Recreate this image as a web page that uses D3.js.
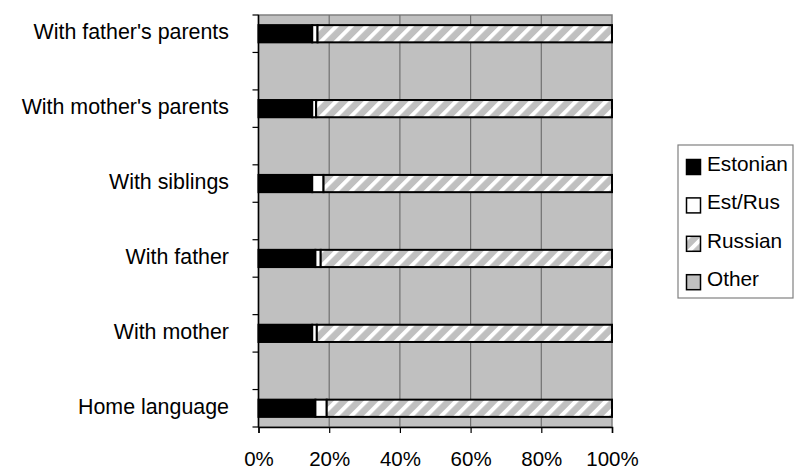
<!DOCTYPE html>
<html>
<head>
<meta charset="utf-8">
<script src="https://cdn.jsdelivr.net/npm/d3@7"></script>
<style>
  html, body { margin: 0; padding: 0; background: #fff; }
  svg { display: block; font-family: "Liberation Sans", Arial, sans-serif; }
</style>
</head>
<body>
<div id="chart"></div>
<script>
const categories = ["With father's parents", "With mother's parents", "With siblings", "With father", "With mother", "Home language"];
const estonian = [15.2, 15.2, 15.2, 16.1, 15.2, 16.1];
const estRus   = [1.5, 1.1, 3.2, 1.5, 1.3, 3.2];
const russian  = [83.3, 83.7, 81.6, 82.4, 83.5, 80.7];
const other    = [0, 0, 0, 0, 0, 0];
const seriesNames = ["Estonian", "Est/Rus", "Russian", "Other"];
const xTicks = [0, 20, 40, 60, 80, 100];

const W = 794, H = 470;
const plot = { left: 258.5, right: 612, top: 15, bottom: 427 };

const svg = d3.select("#chart").append("svg").attr("width", W).attr("height", H);
svg.append("rect").attr("width", W).attr("height", H).attr("fill", "#fff");

const defs = svg.append("defs");
const pat = defs.append("pattern")
  .attr("id", "hatch").attr("patternUnits", "userSpaceOnUse")
  .attr("width", 10.6).attr("height", 10.6)
  .attr("patternTransform", "rotate(45)");
pat.append("rect").attr("width", 10.6).attr("height", 10.6).attr("fill", "#c0c0c0");
pat.append("rect").attr("width", 4).attr("height", 10.6).attr("fill", "#ffffff");

const x = d3.scaleLinear().domain([0, 100]).range([plot.left, plot.right]);
// 11 slots: categories occupy every other slot
const slots = d3.range(categories.length * 2 - 1);
const y = d3.scaleBand().domain(slots).range([plot.top, plot.bottom]).paddingInner(0).paddingOuter(0);
const barPad = 0.27;

// plot background
svg.append("rect").attr("x", plot.left).attr("y", plot.top)
  .attr("width", plot.right - plot.left).attr("height", plot.bottom - plot.top)
  .attr("fill", "#c0c0c0").attr("stroke", "#808080").attr("stroke-width", 1.5);

// gridlines
svg.append("g").selectAll("line").data(xTicks.slice(1, -1)).join("line")
  .attr("x1", d => x(d)).attr("x2", d => x(d))
  .attr("y1", plot.top).attr("y2", plot.bottom)
  .attr("stroke", "#707070").attr("stroke-width", 1.2);

// stacked data
const fills = ["#000000", "#ffffff", "url(#hatch)", "#c0c0c0"];
const rows = categories.map((c, i) => ({ cat: c, slot: i * 2, vals: [estonian[i], estRus[i], russian[i], other[i]] }));
const segs = [];
rows.forEach(r => {
  let acc = 0;
  r.vals.forEach((v, k) => {
    if (v > 0) segs.push({ slot: r.slot, x0: acc, x1: acc + v, k });
    acc += v;
  });
});
const bh = y.bandwidth() * (1 - 2 * barPad);
svg.append("g").selectAll("rect").data(segs).join("rect")
  .attr("x", d => x(d.x0)).attr("width", d => x(d.x1) - x(d.x0))
  .attr("y", d => y(d.slot) + y.bandwidth() * barPad).attr("height", bh)
  .attr("fill", d => fills[d.k]).attr("stroke", "#000").attr("stroke-width", 2);

// left axis with ticks at slot boundaries
const yTickPos = slots.map(s => y(s)).concat([plot.bottom]);
const gl = svg.append("g");
gl.append("line").attr("x1", plot.left).attr("x2", plot.left).attr("y1", plot.top).attr("y2", plot.bottom)
  .attr("stroke", "#000").attr("stroke-width", 1.5);
gl.selectAll("line.t").data(yTickPos).join("line").attr("class", "t")
  .attr("x1", plot.left - 6).attr("x2", plot.left).attr("y1", d => d).attr("y2", d => d)
  .attr("stroke", "#000").attr("stroke-width", 1.2);

// category labels
svg.append("g").selectAll("text").data(rows).join("text")
  .attr("x", 229).attr("y", d => y(d.slot) + y.bandwidth() / 2 + 5.5)
  .attr("text-anchor", "end").attr("font-size", 21.4).attr("fill", "#000")
  .text(d => d.cat);

// bottom axis
const xAxis = d3.axisBottom(x).tickValues(xTicks).tickFormat(d => d + "%").tickSize(6).tickPadding(18);
const gx = svg.append("g").attr("transform", `translate(0,${plot.bottom})`).call(xAxis);
gx.select(".domain").attr("stroke", "#000").attr("stroke-width", 1.5);
gx.selectAll(".tick line").attr("stroke", "#000").attr("stroke-width", 1.2);
gx.selectAll(".tick text").attr("font-size", 20.5).attr("fill", "#000")
  .attr("font-family", "\"Liberation Sans\", Arial, sans-serif");

// legend
const lg = svg.append("g");
lg.append("rect").attr("x", 678).attr("y", 145).attr("width", 115).attr("height", 153)
  .attr("fill", "#fff").attr("stroke", "#808080").attr("stroke-width", 1.2);
const legItems = seriesNames.map((n, k) => ({ n, k }));
const li = lg.selectAll("g.item").data(legItems).join("g").attr("class", "item")
  .attr("transform", d => `translate(0,${171 + d.k * 38.4})`);
li.append("rect").attr("x", 686.5).attr("y", -11.5).attr("width", 14).attr("height", 15)
  .attr("fill", d => fills[d.k]).attr("stroke", "#000").attr("stroke-width", 1.5);
li.append("text").attr("x", 707).attr("y", 0).attr("font-size", 20.8).attr("fill", "#000").text(d => d.n);
</script>
</body>
</html>
